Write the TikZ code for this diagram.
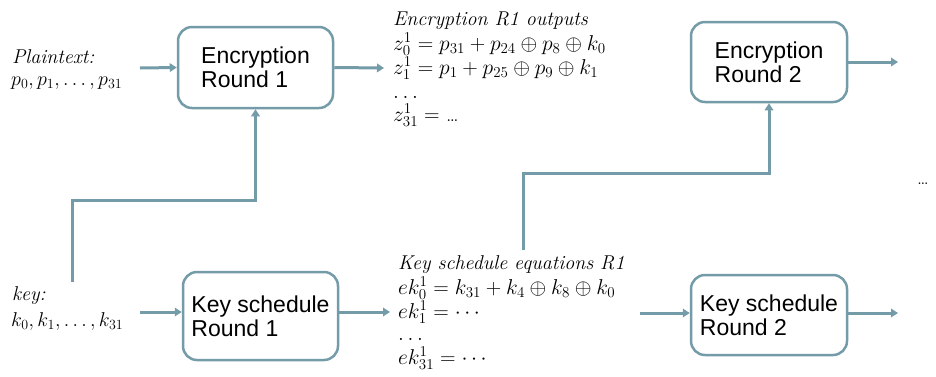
\RequirePackage{fix-cm}
\documentclass[tikz,border=0pt]{standalone}
\usepackage{fontspec}
\setsansfont{Liberation Sans}
\usetikzlibrary{arrows.meta}
\definecolor{steel}{RGB}{116,155,168}
\begin{document}
\begin{tikzpicture}[x=1pt,y=-1pt,
 box/.style={draw=steel, line width=2.5pt, rounded corners=14pt, fill=white, align=left, font=\sffamily\fontsize{23}{24}\selectfont, inner sep=0pt},
 arr/.style={draw=steel, line width=3pt, -{Triangle[length=7pt,width=8.5pt]}},
 lbl/.style={anchor=base west, inner sep=0pt, font=\fontsize{20}{23}\selectfont},
 eq/.style={anchor=base west, inner sep=0pt, font=\fontsize{21.5}{23}\selectfont},
]
\useasboundingbox (0,0) rectangle (936,376);
\node[box, minimum width=155pt, minimum height=81pt] (er1) at (255.5,67.5) {Encryption\\Round 1};
\node[box, minimum width=156pt, minimum height=80pt] (er2) at (769,62) {Encryption\\Round 2};
\node[box, minimum width=155pt, minimum height=88pt] (ks1) at (260.5,316) {Key schedule\\Round 1};
\node[box, minimum width=156pt, minimum height=80pt] (ks2) at (769,315) {Key schedule\\Round 2};

\node[lbl] (pt) at (12,63) {\itshape Plaintext:};
\node[lbl] (pv) at (11,85) {$p_0, p_1,\ldots, p_{31}$};
\node[lbl] (kl) at (12,300) {\itshape key:};
\node[lbl] (kv) at (11,326) {$k_0,k_1,\ldots,k_{31}$};

\node[lbl] (eh) at (393,25) {\itshape Encryption R1 outputs};
\node[eq] (z0) at (393,50) {$z_0^1 = p_{31}+p_{24}\oplus p_8\oplus k_0$};
\node[eq] (z1) at (393,74.5) {$z_1^1 = p_1+p_{25}\oplus p_9\oplus k_1$};
\node[eq] (zd) at (393,98) {$\ldots$};
\node[eq] (z31) at (393,121) {$z_{31}^1 = $ \ldots};

\node[lbl] (kh) at (398,269) {\itshape Key schedule equations R1};
\node[eq] (e0) at (398,294) {$ek_0^1 = k_{31}+k_4\oplus k_8\oplus k_0$};
\node[eq] (e1) at (398,318.5) {$ek_1^1 = \cdots$};
\node[eq] (ed) at (398,340) {$\ldots$};
\node[eq] (e31) at (398,364) {$ek_{31}^1 = \cdots$};

\node[lbl] (dd) at (917,184) {\ldots};

\coordinate (pin) at (140,68);
\draw[arr] (pin) -- (er1.west);
\coordinate (eout) at (384,68);
\draw[arr] (er1.east) -- (eout);
\coordinate (e2out) at (898,62);
\draw[arr] (er2.east) -- (e2out);
\coordinate (kin) at (140,312);
\draw[arr] (kin) -- (kin -| ks1.west);
\coordinate (ksout) at (390,312);
\draw[arr] (ks1.east |- ksout) -- (ksout);
\coordinate (ks2in) at (640,313);
\draw[arr] (ks2in) -- (ks2in -| ks2.west);
\coordinate (ks2out) at (898,313);
\draw[arr] (ks2.east |- ks2out) -- (ks2out);
\coordinate (kup) at (72,282);
\coordinate (kbend) at (72,200);
\draw[arr] (kup) -- (kbend) -| (er1.south);
\coordinate (equp) at (523,250);
\coordinate (eqbend) at (523,173);
\draw[arr] (equp) -- (eqbend) -| (er2.south);
\end{tikzpicture}
\end{document}
